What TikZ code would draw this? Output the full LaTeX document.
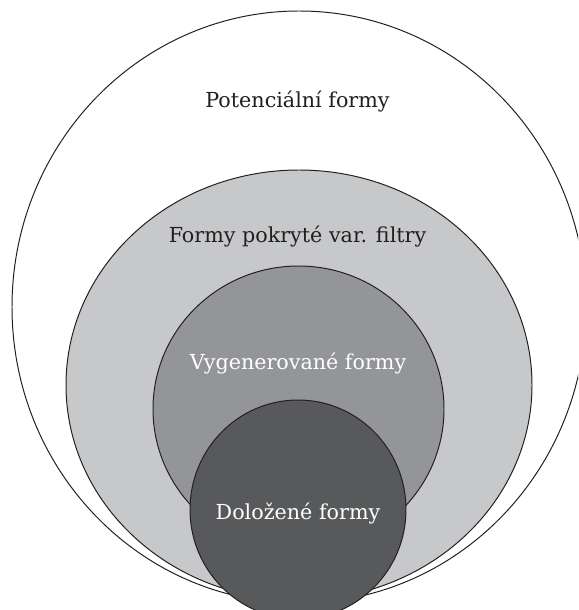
\documentclass[tikz,border=0pt]{standalone}
\usepackage{fontspec}
\setmainfont{DejaVu Serif}
\definecolor{greyA}{HTML}{C7C8CA}
\definecolor{greyB}{HTML}{939598}
\definecolor{greyC}{HTML}{58595B}
\definecolor{inkdark}{HTML}{231F20}
\begin{document}
\begin{tikzpicture}[x=0.025cm,y=-0.025cm,
    set/.style={draw=inkdark,line width=0.7pt},
    setlabel/.style={font=\fontsize{14.7}{17}\selectfont,inner sep=0pt}]
  \useasboundingbox (0,0) rectangle (578,610);
  \clip (0,0) rectangle (578,610);
  % nested sets, outer to inner
  \foreach \cx/\cy/\rx/\ry/\col in {299/307/287/296/white, 299/385/233/215/greyA,
      298.5/409/145.5/143/greyB, 298/509.5/108/109.5/greyC} {
    \filldraw[set,fill=\col] (\cx,\cy) ellipse [x radius=\rx, y radius=\ry];
  }
  \node[setlabel,text=inkdark] (potential) at (297.5,102) {Potenciální formy};
  \node[setlabel,text=inkdark] (covered) at (297.5,237) {Formy pokryté var. filtry};
  \node[setlabel,text=white] (generated) at (298,364) {Vygenerované formy};
  \node[setlabel,text=white] (attested) at (298,514) {Doložené formy};
\end{tikzpicture}
\end{document}
